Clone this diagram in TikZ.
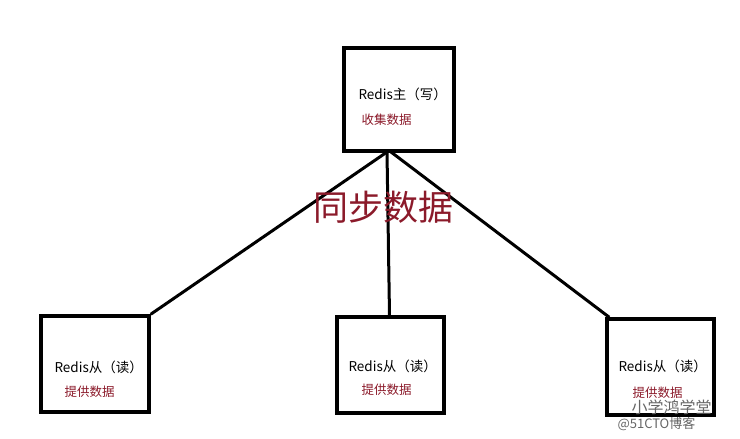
\documentclass[tikz,border=0pt]{standalone}
\usepackage{fontspec}
\setmainfont{Noto Sans CJK SC}
\definecolor{dred}{HTML}{8B1A2A}
\begin{document}
\begin{tikzpicture}[x=1pt,y=-1pt,
  box/.style={draw,line width=3.5pt,minimum width=#1,minimum height=96pt,inner sep=0pt},
  link/.style={line width=3pt},
  t/.style={font=\fontsize{13.5}{13.5}\selectfont},
  r/.style={font=\fontsize{12.5}{12.5}\selectfont,text=dred}]
\useasboundingbox (0,0) rectangle (740,439);
\node[box=110pt,minimum height=103pt] (m) at (399,99.5) {};
\node[box=108pt] (a) at (95,364) {};
\node[box=107pt] (b) at (390.5,365) {};
\node[box=107pt] (c) at (660.5,367) {};
\node[t,anchor=west] (mt) at (355,94) {Redis主（写）};
\node[r,anchor=west] (mr) at (358,120) {收集数据};
\node[t,anchor=west] (at) at (51,367) {Redis从（读）};
\node[r,anchor=west] (ar) at (61,392) {提供数据};
\node[t,anchor=west] (bt) at (345,366) {Redis从（读）};
\node[r,anchor=west] (br) at (358,390) {提供数据};
\node[t,anchor=west] (ct) at (615,366) {Redis从（读）};
\node[r,anchor=west] (cr) at (629,393) {提供数据};
\coordinate (p1) at (387,152);
\coordinate (p2) at (391,152);
\draw[link] (p1) -- (a.north east);
\draw[link] (p1) -- ([xshift=-1pt]b.north);
\draw[link] (p2) -- ([xshift=4pt]c.north west);
\node[text=dred,font=\fontsize{35}{35}\selectfont] (sync) at (383,207) {同步数据};
\node[text=gray!80!black,font=\fontsize{16}{16}\selectfont,anchor=west] (w1) at (628,407) {小学鸿学堂};
\node[text=gray!80!black,font=\fontsize{13}{13}\selectfont,anchor=west] (w2) at (614,424) {@51CTO博客};
\end{tikzpicture}
\end{document}
